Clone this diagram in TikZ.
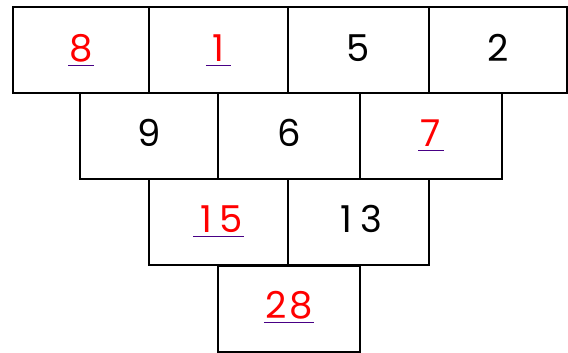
\documentclass[tikz,border=0pt]{standalone}
\usepackage{fontspec}
\setmainfont{Poppins}
\newcommand{\tdig}[1]{\makebox[25pt][c]{#1}}
\begin{document}
\begin{tikzpicture}[x=1pt,y=1pt,
  cell/.style={draw=black,line width=2pt,minimum height=86pt,inner sep=0pt},
  num/.style={font=\fontsize{37}{37}\selectfont,inner sep=0pt,text=black},
  hot/.style={num,text=red},
  ul/.style={draw=violet!70!blue!80!black,line width=0.9pt}]
\useasboundingbox (0,0) rectangle (568,353);
% row 1
\node[cell,minimum width=136pt] (a1) at (81,303) {};
\node[cell,minimum width=139pt] (a2) at (218.5,303) {};
\node[cell,minimum width=141pt] (a3) at (358.5,303) {};
\node[cell,minimum width=138pt] (a4) at (498,303) {};
% row 2
\node[cell,minimum width=138pt] (b1) at (149,217) {};
\node[cell,minimum width=142pt] (b2) at (289,217) {};
\node[cell,minimum width=142pt] (b3) at (431,217) {};
% row 3
\node[cell,minimum width=139pt] (c1) at (218.5,130.5) {};
\node[cell,minimum width=141pt] (c2) at (358.5,130.5) {};
% row 4
\node[cell,minimum width=142pt] (d1) at (289,44) {};
% numbers
\node[hot,anchor=base] (t8) at (81,291) {\tdig{8}};
\node[hot,anchor=base] (t1) at (218.5,291) {\tdig{1}};
\node[num,anchor=base] (t5) at (358.5,291) {5};
\node[num,anchor=base] (t2) at (498,291) {2};
\node[num,anchor=base] (t9) at (149,206) {9};
\node[num,anchor=base] (t6) at (289,206) {6};
\node[hot,anchor=base] (t7) at (431,206) {\tdig{7}};
\node[hot,anchor=base] (t15) at (218.5,120) {\tdig{1}\tdig{5}};
\node[num,anchor=base] (t13) at (358.5,120) {\tdig{1}\tdig{3}};
\node[hot,anchor=base] (t28) at (289,34) {\tdig{2}\tdig{8}};
% underlines
\foreach \n in {t8,t1,t7,t15,t28}
  \draw[ul] ([yshift=-3pt]\n.base west) -- ([yshift=-3pt]\n.base east);
\end{tikzpicture}
\end{document}
